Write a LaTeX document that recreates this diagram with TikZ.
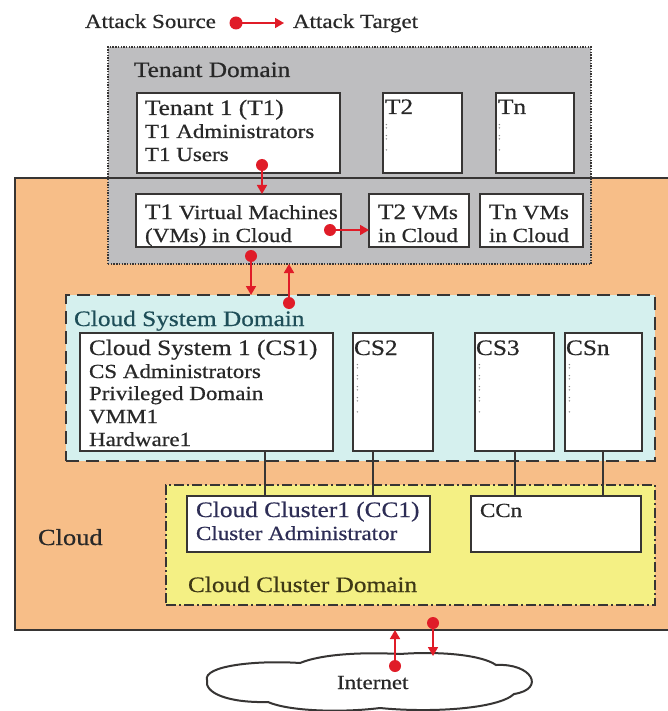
\documentclass[tikz,border=0pt]{standalone}
\usepackage{fontspec}
\setmainfont{Liberation Serif}[FakeStretch=1.15,FakeBold=0.6]
\usetikzlibrary{arrows.meta}
\definecolor{cloudorange}{RGB}{247,190,136}
\definecolor{tenantgray}{RGB}{190,190,192}
\definecolor{csdcyan}{RGB}{213,240,238}
\definecolor{ccdyellow}{RGB}{244,240,132}
\definecolor{edgedark}{RGB}{55,53,52}
\definecolor{attackred}{RGB}{224,28,40}
\definecolor{txtdark}{RGB}{40,40,40}
\definecolor{tealtxt}{RGB}{30,78,88}
\definecolor{navytxt}{RGB}{45,45,85}
\definecolor{olivetxt}{RGB}{62,56,22}
\definecolor{markgray}{RGB}{140,140,140}
\begin{document}
\begin{tikzpicture}[x=1pt,y=-1pt,
  every node/.style={inner sep=0pt,outer sep=0pt},
  region/.style={anchor=north west,draw=edgedark},
  wbox/.style={anchor=north west,draw=edgedark,fill=white,line width=2pt},
  ttl/.style={anchor=base west,text=txtdark,font=\fontsize{22}{24}\selectfont},
  bdy/.style={anchor=base west,text=txtdark,font=\fontsize{20}{23}\selectfont},
  marks/.style={anchor=north west,text=markgray,align=center,font=\fontsize{9}{11}\selectfont},
  attack/.style={draw=attackred,line width=1.7pt,-{Triangle[length=9pt,width=10pt]}},
  dot/.style={fill=attackred},
  link/.style={draw=edgedark,line width=1.3pt}]
\useasboundingbox (0,0) rectangle (667,711);
\fill[white] (0,0) rectangle (667,711);

% legend
\node[bdy] (srcl) at (85,28) {Attack Source};
\coordinate (lgs) at (236,23);
\coordinate (lgt) at (284,23);
\draw[attack] (lgs) -- (lgt);
\fill[dot] (lgs) circle[radius=6.5pt];
\node[bdy] (tgtl) at (293,28) {Attack Target};

% cloud region
\node[region,fill=cloudorange,line width=2pt,minimum width=690,minimum height=452] (cloud) at (15,178) {};
% tenant domain
\node[region,fill=tenantgray,line width=1.8pt,dash pattern=on 1.4pt off 1.3pt,minimum width=483,minimum height=217] (tdom) at (108,47) {};
\draw[draw=edgedark,line width=2.2pt] (cloud.north west) -- (cloud.north east);
\node[ttl] (tdoml) at (134,77) {Tenant Domain};

% tenant boxes
\node[wbox,minimum width=203,minimum height=80] (t1) at (137,93) {};
\node[ttl] (t1a) at (145,115) {Tenant 1 (T1)};
\node[bdy] (t1b) at (145,138) {T1 Administrators};
\node[bdy] (t1c) at (145,161) {T1 Users};
\node[wbox,minimum width=79,minimum height=80] (t2) at (383,93) {};
\node[ttl] (t2a) at (385,114) {T2};
\node[marks] (t2m) at (385,124) {:\\:\\.};
\node[wbox,minimum width=78,minimum height=80] (tn) at (496,93) {};
\node[ttl] (tna) at (498,114) {Tn};
\node[marks] (tnm) at (498,124) {:\\:\\.};

% VM boxes
\node[wbox,minimum width=205,minimum height=53] (t1vm) at (136,194) {};
\node[bdy] (t1vma) at (145,219) {{\fontsize{22}{24}\selectfont T1} Virtual Machines};
\node[bdy] (t1vmb) at (145,242) {(VMs) in Cloud};
\node[wbox,minimum width=100,minimum height=53] (t2vm) at (369,194) {};
\node[bdy] (t2vma) at (378,219) {{\fontsize{22}{24}\selectfont T2} VMs};
\node[bdy] (t2vmb) at (378,242) {in Cloud};
\node[wbox,minimum width=103,minimum height=53] (tnvm) at (480,194) {};
\node[bdy] (tnvma) at (489,219) {{\fontsize{22}{24}\selectfont Tn} VMs};
\node[bdy] (tnvmb) at (489,242) {in Cloud};

% cloud system domain
\node[region,fill=csdcyan,line width=2.8pt,dash pattern=on 13pt off 7pt,minimum width=589,minimum height=166] (csd) at (66,295) {};
\node[ttl,text=tealtxt] (csdl) at (74,326) {Cloud System Domain};
\node[wbox,minimum width=253,minimum height=118] (cs1) at (80,333) {};
\node[ttl] (cs1a) at (89,355) {Cloud System 1 (CS1)};
\node[bdy] (cs1b) at (89,378) {CS Administrators};
\node[bdy] (cs1c) at (89,400) {Privileged Domain};
\node[bdy] (cs1d) at (89,423) {VMM1};
\node[bdy] (cs1e) at (89,446) {Hardware1};
\node[wbox,minimum width=80,minimum height=118] (cs2) at (353,333) {};
\node[ttl] (cs2a) at (354,355) {CS2};
\node[marks] (cs2m) at (356,364) {:\\:\\:\\:\\.};
\node[wbox,minimum width=79,minimum height=118] (cs3) at (475,333) {};
\node[ttl] (cs3a) at (476,355) {CS3};
\node[marks] (cs3m) at (478,364) {:\\:\\:\\:\\.};
\node[wbox,minimum width=77,minimum height=118] (csn) at (565,333) {};
\node[ttl] (csna) at (566,355) {CSn};
\node[marks] (csnm) at (568,364) {:\\:\\:\\:\\.};

% cloud cluster domain
\node[region,fill=ccdyellow,line width=1.9pt,dash pattern=on 10pt off 3pt on 2pt off 3pt,minimum width=489,minimum height=120] (ccd) at (166,485) {};
\node[wbox,minimum width=243,minimum height=56] (cc1) at (187,496) {};
\node[ttl,text=navytxt] (cc1a) at (196,517) {Cloud Cluster1 (CC1)};
\node[bdy,text=navytxt] (cc1b) at (196,540) {Cluster Administrator};
\node[wbox,minimum width=170,minimum height=56] (ccn) at (471,496) {};
\node[bdy] (ccna) at (480,517) {CCn};
\node[ttl,text=olivetxt] (ccdl) at (188,592) {Cloud Cluster Domain};
\node[ttl,font=\fontsize{23}{25}\selectfont] (cloudl) at (38,545) {Cloud};

% CS -> CC links
\coordinate (lx1) at (265,0);
\coordinate (lx2) at (373,0);
\coordinate (lx3) at (515,0);
\coordinate (lx4) at (603,0);
\draw[link] (lx1 |- cs1.south) -- (lx1 |- cc1.north);
\draw[link] (lx2 |- cs2.south) -- (lx2 |- cc1.north);
\draw[link] (lx3 |- cs3.south) -- (lx3 |- ccn.north);
\draw[link] (lx4 |- csn.south) -- (lx4 |- ccn.north);

% internet cloud
\draw[draw=edgedark,fill=white,line width=2pt]
  (207,680) .. controls (203,666) and (255,660) .. (300,663)
  .. controls (322,654) and (362,652) .. (400,654)
  .. controls (440,651) and (482,655) .. (496,665)
  .. controls (532,663) and (546,689) .. (514,694)
  .. controls (498,709) and (430,713) .. (380,708)
  .. controls (340,713) and (288,711) .. (268,702)
  .. controls (228,703) and (204,693) .. (207,680) -- cycle;
\node[bdy] (inet) at (337,689) {Internet};

% attack arrows
\coordinate (a1s) at (262,165);
\draw[attack] (a1s) -- (a1s |- t1vm.north);
\fill[dot] (a1s) circle[radius=6pt];
\coordinate (a2s) at (330,230);
\draw[attack] (a2s) -- (t2vm.west |- a2s);
\fill[dot] (a2s) circle[radius=6pt];
\coordinate (a3s) at (251,256);
\draw[attack] (a3s) -- (a3s |- csd.north);
\fill[dot] (a3s) circle[radius=6pt];
\coordinate (a4s) at (289,303);
\draw[attack] (a4s) -- (a4s |- tdom.south);
\fill[dot] (a4s) circle[radius=6pt];
\coordinate (a5s) at (395,666);
\draw[attack] (a5s) -- (a5s |- cloud.south);
\fill[dot] (a5s) circle[radius=6pt];
\coordinate (a6s) at (433,623);
\coordinate (a6t) at (433,656);
\draw[attack] (a6s) -- (a6t);
\fill[dot] (a6s) circle[radius=6pt];
\end{tikzpicture}
\end{document}
